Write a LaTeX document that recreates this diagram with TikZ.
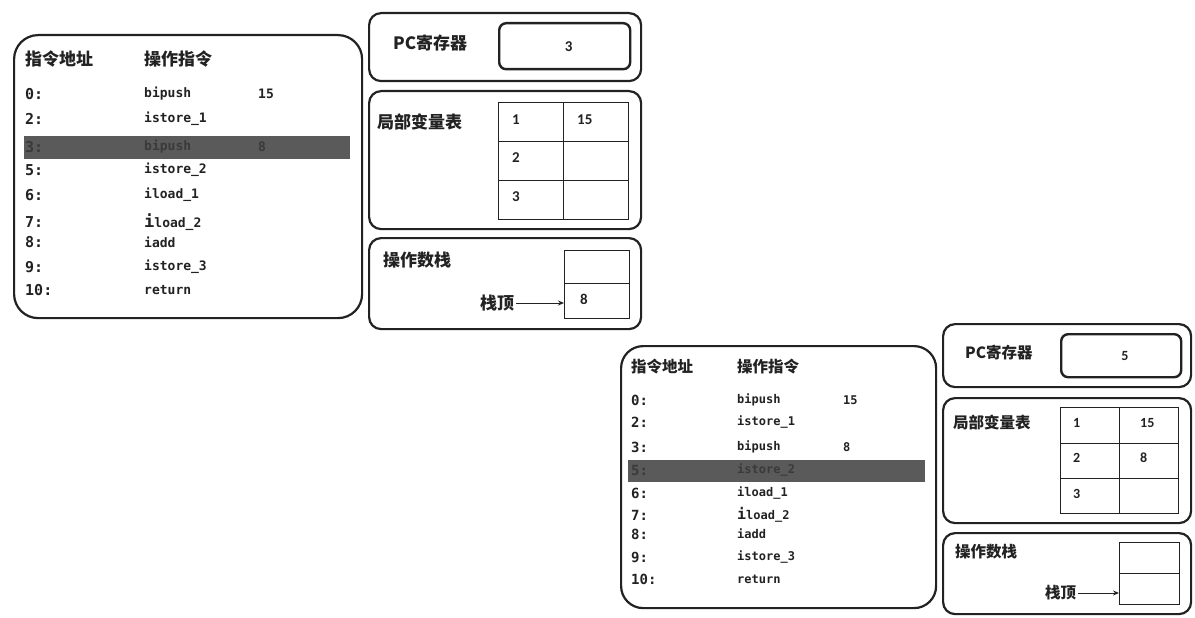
\documentclass[tikz,border=0pt]{standalone}
\usepackage{fontspec}
\setmainfont{Carlito}
\newfontfamily\cjk{Noto Sans CJK SC}
\newfontfamily\mono{DejaVu Sans Mono}
\usetikzlibrary{arrows.meta}
\definecolor{ink}{HTML}{222222}
\definecolor{hl}{HTML}{5A5A5A}
\definecolor{hltext}{HTML}{3A3A3A}
\newcommand{\bigI}{{\fontsize{17pt}{17pt}\selectfont\bfseries i}}
\newcommand{\bigIs}{{\fontsize{15pt}{15pt}\selectfont\bfseries i}}
\begin{document}
\begin{tikzpicture}[x=1pt,y=-1pt,
  panel/.style={draw=ink,line width=2.2pt,rounded corners=#1,anchor=north west,inner sep=0pt},
  panel/.default=12pt,
  cell/.style={draw=ink,line width=1pt,anchor=north west,inner sep=0pt},
  pcbox/.style={draw=ink,line width=2.4pt,rounded corners=7pt,anchor=north west,inner sep=0pt},
  txt/.style={anchor=west,inner sep=0pt,text=ink},
  hA/.style={txt,font=\cjk\bfseries\fontsize{17pt}{17pt}\selectfont},
  hB/.style={txt,font=\cjk\bfseries\fontsize{15.5pt}{15.5pt}\selectfont},
  adA/.style={txt,font=\mono\bfseries\fontsize{15pt}{15pt}\selectfont},
  adB/.style={txt,font=\mono\bfseries\fontsize{14pt}{14pt}\selectfont},
  inA/.style={txt,font=\mono\bfseries\fontsize{13pt}{13pt}\selectfont},
  inB/.style={txt,font=\mono\bfseries\fontsize{12pt}{12pt}\selectfont},
  numA/.style={txt,font=\bfseries\fontsize{15pt}{15pt}\selectfont},
  numB/.style={txt,font=\bfseries\fontsize{14pt}{14pt}\selectfont},
  arr/.style={-{Stealth[length=6pt,width=5pt]},line width=1pt,draw=ink}]
\path[use as bounding box,fill=white] (0,0) rectangle (1195,618);

% ===================== first state (PC = 3) =====================
\node[panel=24pt,minimum width=348pt,minimum height=283pt] (progA) at (13,34) {};
\node[hA] (hA1) at (25,59) {指令地址};
\node[hA] (hA2) at (144,59) {操作指令};
\fill[hl] (24,136) rectangle (350,159);
\foreach \y/\a/\ins/\c [count=\k] in {94/0:/bipush/ink,119/2:/istore\_1/ink,147/3:/bipush/hltext,170/5:/istore\_2/ink,195/6:/iload\_1/ink,222/7:/\bigI load\_2/ink,242/8:/iadd/ink,267/9:/istore\_3/ink,290/10:/return/ink}{
  \node[adA,text=\c] (aA\k) at (25,\y) {\a};
  \node[inA,text=\c] (iA\k) at (144,\y) {\ins};
}
\node[inA] (oA1) at (258,94) {15};
\node[inA,text=hltext] (oA3) at (258,147) {8};

\node[panel,minimum width=272pt,minimum height=68pt] (pcA) at (368,12) {};
\node[hA] (pcAl) at (393,43) {PC寄存器};
\node[pcbox,minimum width=131pt,minimum height=46pt] (pcAv) at (498,22) {};
\node[numA] (pcAn) at (pcAv.center) {3};

\node[panel,minimum width=272pt,minimum height=138pt] (lvA) at (368,90) {};
\node[hA] (lvAl) at (377,122) {局部变量表};
\node[cell,minimum width=65pt,minimum height=39pt] (tA11) at (498,102) {};
\node[cell,minimum width=65pt,minimum height=39pt] (tA12) at (563,102) {};
\node[cell,minimum width=65pt,minimum height=39pt] (tA21) at (498,141) {};
\node[cell,minimum width=65pt,minimum height=39pt] (tA22) at (563,141) {};
\node[cell,minimum width=65pt,minimum height=39pt] (tA31) at (498,180) {};
\node[cell,minimum width=65pt,minimum height=39pt] (tA32) at (563,180) {};
\node[numA] (nA11) at (512,120) {1};
\node[numA] (nA12) at (577,120) {15};
\node[numA] (nA21) at (512,158) {2};
\node[numA] (nA31) at (512,197) {3};

\node[panel,minimum width=272pt,minimum height=91pt] (osA) at (368,237) {};
\node[hA] (osAl) at (383,260) {操作数栈};
\node[cell,minimum width=65pt,minimum height=33pt] (sA1) at (564,250) {};
\node[cell,minimum width=65pt,minimum height=35pt] (sA2) at (564,283) {};
\node[numA] (sA2n) at (580,299) {8};
\node[hA] (topA) at (480,303) {栈顶};
\draw[arr] ([xshift=2pt]topA.east) -- (topA.east -| sA2.west);

% ===================== second state (PC = 5) =====================
\node[panel=22pt,minimum width=315pt,minimum height=262pt] (progB) at (620,345) {};
\node[hB] (hB1) at (631,367) {指令地址};
\node[hB] (hB2) at (737,367) {操作指令};
\fill[hl] (628,460) rectangle (925,482);
\foreach \y/\a/\ins/\c [count=\k] in {400/0:/bipush/ink,422/2:/istore\_1/ink,447/3:/bipush/ink,470/5:/istore\_2/hltext,493/6:/iload\_1/ink,515/7:/\bigIs load\_2/ink,534/8:/iadd/ink,557/9:/istore\_3/ink,579/10:/return/ink}{
  \node[adB,text=\c] (aB\k) at (631,\y) {\a};
  \node[inB,text=\c] (iB\k) at (737,\y) {\ins};
}
\node[inB] (oB1) at (843,400) {15};
\node[inB] (oB3) at (843,447) {8};

\node[panel,minimum width=248pt,minimum height=63pt] (pcB) at (942,323) {};
\node[hB] (pcBl) at (965,353) {PC寄存器};
\node[pcbox,minimum width=120pt,minimum height=43pt] (pcBv) at (1060,333) {};
\node[numB] (pcBn) at (pcBv.center) {5};

\node[panel,minimum width=248pt,minimum height=125pt] (lvB) at (942,397) {};
\node[hB] (lvBl) at (953,423) {局部变量表};
\node[cell,minimum width=59pt,minimum height=36pt] (tB11) at (1060,407) {};
\node[cell,minimum width=59pt,minimum height=36pt] (tB12) at (1119,407) {};
\node[cell,minimum width=59pt,minimum height=35pt] (tB21) at (1060,443) {};
\node[cell,minimum width=59pt,minimum height=35pt] (tB22) at (1119,443) {};
\node[cell,minimum width=59pt,minimum height=35pt] (tB31) at (1060,478) {};
\node[cell,minimum width=59pt,minimum height=35pt] (tB32) at (1119,478) {};
\node[numB] (nB11) at (1073,423) {1};
\node[numB] (nB12) at (1140,423) {15};
\node[numB] (nB21) at (1073,458) {2};
\node[numB] (nB22) at (1140,458) {8};
\node[numB] (nB31) at (1073,494) {3};

\node[panel,minimum width=248pt,minimum height=81pt] (osB) at (942,532) {};
\node[hB] (osBl) at (955,552) {操作数栈};
\node[cell,minimum width=60pt,minimum height=31pt] (sB1) at (1119,542) {};
\node[cell,minimum width=60pt,minimum height=31pt] (sB2) at (1119,573) {};
\node[hB] (topB) at (1045,593) {栈顶};
\draw[arr] ([xshift=2pt]topB.east) -- (topB.east -| sB2.west);
\end{tikzpicture}
\end{document}
